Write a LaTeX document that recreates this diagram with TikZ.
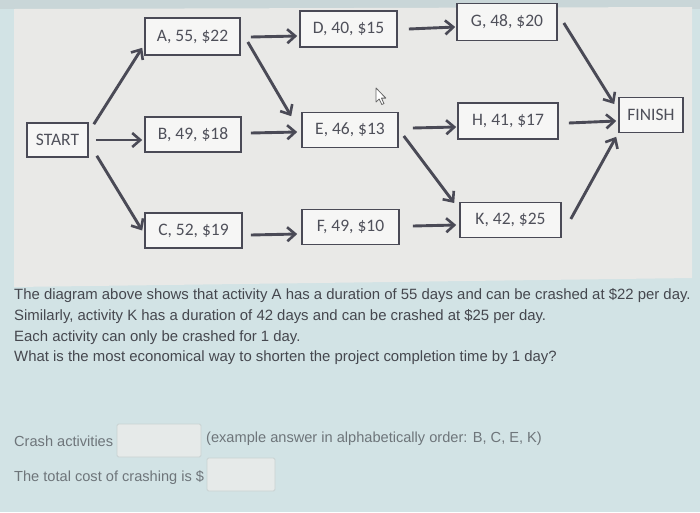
\documentclass[tikz,border=0pt]{standalone}
\usepackage{fontspec}
\setmainfont{Liberation Sans}
\newfontfamily\boxfont{Carlito}
\usetikzlibrary{arrows.meta}
\definecolor{bgblue}{HTML}{D2E3E5}
\definecolor{topstrip}{HTML}{C9D6D8}
\definecolor{panel}{HTML}{E9E9E7}
\definecolor{edgec}{HTML}{4A4A56}
\definecolor{boxtext}{HTML}{4F505A}
\definecolor{qtext}{HTML}{45474E}
\definecolor{ctext}{HTML}{6E757A}
\definecolor{inbox}{HTML}{E6EAE9}
\definecolor{inborder}{HTML}{C9D2D2}
\tikzset{
  act/.style={draw=edgec, line width=1.6pt, fill=white!60!panel, text=boxtext,
    font=\boxfont\fontsize{17.5pt}{19pt}\selectfont, inner sep=0pt},
  arr/.style={draw=edgec, line width=2.9pt,
    -{Straight Barb[length=8pt,width=14pt,line width=2.6pt]}},
  qline/.style={anchor=base west, text=qtext, inner sep=0pt,
    font=\fontsize{14.9pt}{16pt}\selectfont},
  cline/.style={anchor=base west, text=ctext, inner sep=0pt,
    font=\fontsize{14.6pt}{16pt}\selectfont},
  inputbox/.style={draw=inborder, line width=0.8pt, fill=inbox, rounded corners=1.5pt}
}
\begin{document}
\begin{tikzpicture}[x=1pt,y=-1pt]
\useasboundingbox (0,0) rectangle (700,512);
% background
\fill[bgblue] (0,0) rectangle (700,512);
\fill[topstrip] (0,0) rectangle (700,9);
\fill[panel] (14,9) -- (692,7) -- (692,278) -- (14,287) -- cycle;

% nodes
\node[act, minimum width=61pt, minimum height=34pt] (START) at (57.5,140) {START};
\node[act, minimum width=95pt, minimum height=37pt] (A) at (192.5,36.5) {A, 55, \$22};
\node[act, minimum width=96pt, minimum height=35pt] (B) at (193,134.5) {B, 49, \$18};
\node[act, minimum width=97pt, minimum height=35pt] (C) at (193.5,230.5) {C, 52, \$19};
\node[act, minimum width=97pt, minimum height=36pt] (D) at (348.5,29) {D, 40, \$15};
\node[act, minimum width=96pt, minimum height=35pt] (E) at (350,130) {E, 46, \$13};
\node[act, minimum width=97pt, minimum height=35pt] (F) at (350.5,227) {F, 49, \$10};
\node[act, minimum width=100pt, minimum height=37pt] (G) at (507,22) {G, 48, \$20};
\node[act, minimum width=100pt, minimum height=36pt] (H) at (508,121) {H, 41, \$17};
\node[act, minimum width=101pt, minimum height=35pt] (K) at (510.5,220) {K, 42, \$25};
\node[act, minimum width=64pt, minimum height=35pt] (FIN) at (651,115) {FINISH};

% connectors
\draw[arr] ([shift={(5,2)}]START.north east) -- ([shift={(-2,-8)}]A.south west);
\draw[arr] ([shift={(7,0)}]START.east) -- ([shift={(-2,0)}]B.west |- START.east);
\draw[arr] ([shift={(8,-2)}]START.south east) -- ([shift={(-2,0)}]C.west);
\draw[arr] ([shift={(10,0.5)}]A.east) -- ([shift={(-2,7)}]D.west);
\draw[arr] ([shift={(7,5.5)}]A.east) -- ([shift={(-10,4.5)}]E.north west);
\draw[arr] ([shift={(9,-1.5)}]B.east) -- ([shift={(-4,2)}]E.west);
\draw[arr] ([shift={(8,4.5)}]C.east) -- ([shift={(-4,7)}]F.west);
\draw[arr] ([shift={(11,0)}]D.east) -- ([shift={(-1,5)}]G.west);
\draw[arr] ([shift={(14,-2)}]E.east) -- ([shift={(-1,6)}]H.west);
\draw[arr] ([shift={(5,6)}]E.east) -- ([shift={(-5,-17)}]K.west);
\draw[arr] ([shift={(13,-1)}]F.east) -- ([shift={(-3,5)}]K.west);
\draw[arr] ([shift={(6,1)}]G.east) -- ([shift={(-4,-11)}]FIN.west);
\draw[arr] ([shift={(10,2)}]H.east) -- ([shift={(-2,6)}]FIN.west);
\draw[arr] ([shift={(9,-1)}]K.east) -- ([shift={(-2,3.5)}]FIN.south west);

% mouse cursor
\coordinate (cur) at (376,88);
\draw[fill=white, draw=gray!80!black, line width=0.8pt, line join=round]
  (cur) -- ++(0,14) -- ++(3.2,-3) -- ++(2.6,5.5) -- ++(2.2,-1) -- ++(-2.6,-5.4)
  -- ++(4.4,0) -- cycle;

% question text
\node[qline] (q1) at (14,299) {The diagram above shows that activity A has a duration of 55 days and can be crashed at \$22 per day.};
\node[qline] (q2) at (14,320) {Similarly, activity K has a duration of 42 days and can be crashed at \$25 per day.};
\node[qline] (q3) at (14,341) {Each activity can only be crashed for 1 day.};
\node[qline] (q4) at (14,361) {What is the most economical way to shorten the project completion time by 1 day?};

% answer area
\node[cline] (c1) at (14,446) {Crash activities};
\draw[inputbox] (117,424) rectangle (201,457);
\node[cline] (c2) at (206,442) {(example answer in alphabetically order: B, C, E, K)};
\node[cline] (c3) at (14,481) {The total cost of crashing is \$};
\draw[inputbox] (207,458) rectangle (275,491);
\end{tikzpicture}
\end{document}
